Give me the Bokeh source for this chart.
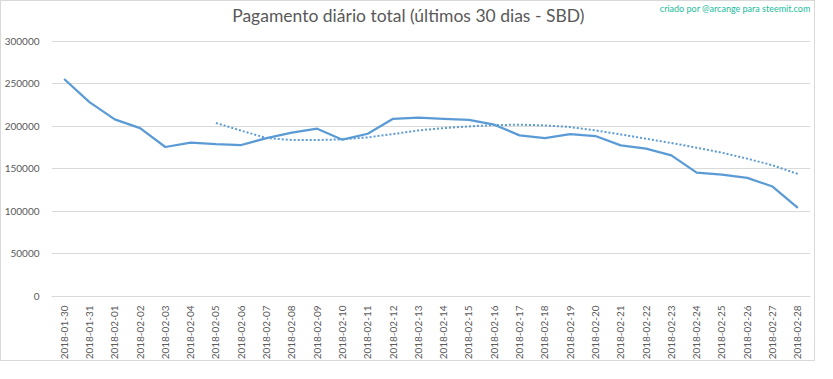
from bokeh.plotting import figure
from bokeh.models import FactorRange, Range1d, FixedTicker, NumeralTickFormatter, Label
from bokeh.embed import file_html
from bokeh.resources import INLINE
import math

dates = ["2018-01-30", "2018-01-31"] + ["2018-02-%02d" % d for d in range(1, 29)]
payout = [255800, 228500, 208200, 198000, 175800, 180900, 179300, 178100, 186300, 192600,
          197300, 184400, 191400, 209000, 210200, 209000, 207800, 202000, 189500, 186300,
          191000, 188700, 177700, 173800, 166000, 145700, 143400, 139500, 129300, 104300]
trend_dates = dates[6:]
trend = [204000, 195000, 186300, 184000, 184000, 184800, 187100, 191000, 195300, 198000,
         200000, 201600, 202000, 201200, 199200, 195300, 190600, 185500, 180500, 175000,
         169100, 162100, 154300, 144100]
y_ticks = [0, 50000, 100000, 150000, 200000, 250000, 300000]

TXT = "#595959"
BLUE = "#5B9BD5"
GRID = "#D9D9D9"

# frame spans from canvas top to the zero line; 300000 sits 256 px above zero
y_top = 300000 * 296 / 256

p = figure(x_range=FactorRange(*dates, range_padding=0), y_range=Range1d(0, y_top),
           width=815, height=361, output_backend="svg", toolbar_location=None,
           min_border_left=48, min_border_right=6, min_border_top=0, min_border_bottom=65)
p.styles = {"border": "1px solid #D9D9D9"}
p.outline_line_color = None
p.background_fill_color = "white"

p.line(dates, payout, line_color=BLUE, line_width=2.25)
p.line(trend_dates, trend, line_color=BLUE, line_width=2, line_dash="2 2")

for ax in (p.xaxis[0], p.yaxis[0]):
    ax.major_tick_out = 0
    ax.major_tick_in = 0
    ax.minor_tick_out = 0
    ax.minor_tick_in = 0
    ax.major_tick_line_color = None
    ax.minor_tick_line_color = None
    ax.major_label_text_color = TXT
    ax.major_label_text_font = "Lato"
    ax.major_label_text_font_size = "10px"

p.yaxis.ticker = FixedTicker(ticks=y_ticks)
p.yaxis.formatter = NumeralTickFormatter(format="0")
p.yaxis.axis_line_color = None
p.yaxis.major_label_standoff = 12

p.xaxis.axis_line_color = GRID
p.xaxis.major_label_orientation = math.pi / 2
p.xaxis.major_label_standoff = 9

p.xgrid.grid_line_color = None
p.ygrid.grid_line_color = GRID
p.ygrid.ticker = FixedTicker(ticks=y_ticks)

title = Label(x=359, y=281, x_units="screen", y_units="screen",
              text="Pagamento diário total  (últimos 30 dias - SBD)",
              text_align="center", text_baseline="middle", text_color=TXT,
              text_font="Lato", text_font_size="17.5px", level="overlay")
p.add_layout(title)
mark = Label(x=759, y=288, x_units="screen", y_units="screen",
             text="criado por @arcange para steemit.com",
             text_align="right", text_baseline="middle", text_color="#1ABC9C",
             text_font="Lato", text_font_size="9px", level="overlay")
p.add_layout(mark)

open("out.html", "w").write(file_html(p, INLINE))
